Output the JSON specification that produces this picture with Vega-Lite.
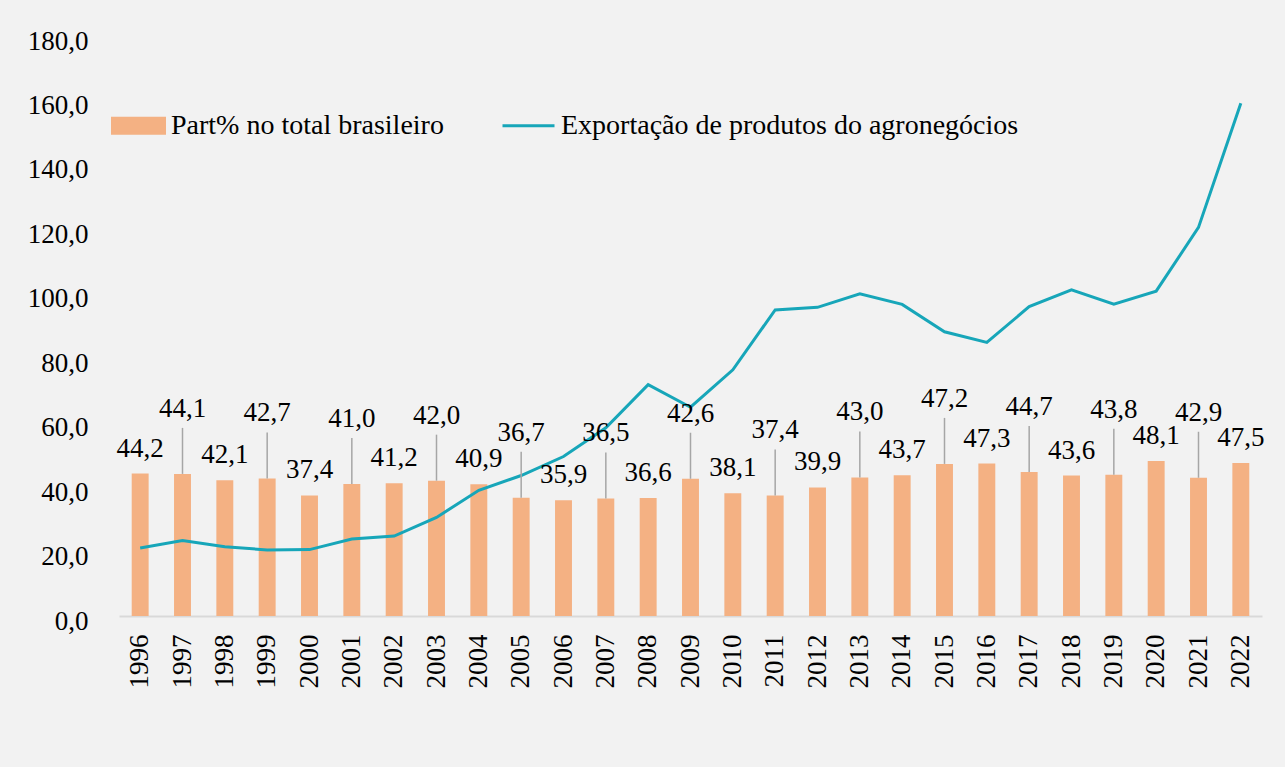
{
  "$schema": "https://vega.github.io/schema/vega-lite/v6.json",
  "width": 1143,
  "height": 580,
  "autosize": "none",
  "padding": {"left": 119, "top": 36, "right": 23, "bottom": 151},
  "background": "#f2f2f2",
  "config": {
    "locale": {"number": {"decimal": ",", "thousands": ".", "grouping": [3], "currency": ["R$", ""]}},
    "view": {"stroke": null},
    "font": "Liberation Serif"
  },
  "data": {
    "values": [
      {"year": "1996", "part": 44.2, "export": 21.1},
      {"year": "1997", "part": 44.1, "export": 23.4},
      {"year": "1998", "part": 42.1, "export": 21.5},
      {"year": "1999", "part": 42.7, "export": 20.5},
      {"year": "2000", "part": 37.4, "export": 20.6},
      {"year": "2001", "part": 41.0, "export": 23.9},
      {"year": "2002", "part": 41.2, "export": 24.8},
      {"year": "2003", "part": 42.0, "export": 30.6},
      {"year": "2004", "part": 40.9, "export": 39.0},
      {"year": "2005", "part": 36.7, "export": 43.6},
      {"year": "2006", "part": 35.9, "export": 49.5},
      {"year": "2007", "part": 36.5, "export": 58.4},
      {"year": "2008", "part": 36.6, "export": 71.8},
      {"year": "2009", "part": 42.6, "export": 64.8},
      {"year": "2010", "part": 38.1, "export": 76.4},
      {"year": "2011", "part": 37.4, "export": 95.0},
      {"year": "2012", "part": 39.9, "export": 95.8},
      {"year": "2013", "part": 43.0, "export": 100.0},
      {"year": "2014", "part": 43.7, "export": 96.7},
      {"year": "2015", "part": 47.2, "export": 88.2},
      {"year": "2016", "part": 47.3, "export": 84.9},
      {"year": "2017", "part": 44.7, "export": 96.0},
      {"year": "2018", "part": 43.6, "export": 101.2},
      {"year": "2019", "part": 43.8, "export": 96.8},
      {"year": "2020", "part": 48.1, "export": 100.8},
      {"year": "2021", "part": 42.9, "export": 120.6},
      {"year": "2022", "part": 47.5, "export": 159.1}
    ]
  },
  "encoding": {
    "x": {
      "field": "year",
      "type": "ordinal",
      "scale": {"paddingInner": 0.6, "paddingOuter": 0.3},
      "axis": {
        "title": null,
        "labelAngle": -90,
        "labelFont": "Liberation Serif",
        "labelFontSize": 27,
        "labelColor": "#000000",
        "labelPadding": 18,
        "ticks": false,
        "tickSize": 0,
        "domainColor": "#d9d9d9",
        "domainWidth": 2
      }
    }
  },
  "layer": [
    {
      "mark": {"type": "bar", "color": "#f4b183"},
      "encoding": {
        "y": {
          "field": "part",
          "type": "quantitative",
          "scale": {"domain": [0, 180], "nice": false, "zero": true},
          "axis": {
            "title": null,
            "values": [0, 20, 40, 60, 80, 100, 120, 140, 160, 180],
            "format": ".1f",
            "grid": false,
            "domain": false,
            "ticks": false,
            "tickSize": 0,
            "labelPadding": 31,
            "labelOffset": 5,
            "labelFont": "Liberation Serif",
            "labelFontSize": 27,
            "labelColor": "#000000"
          }
        },
        "color": {
          "datum": "Part% no total brasileiro",
          "type": "nominal",
          "scale": {
            "domain": ["Part% no total brasileiro", "Exportação de produtos do agronegócios"],
            "range": ["#f4b183", "#17a6b9"]
          },
          "legend": {
            "title": null,
            "orient": "none",
            "legendX": -8,
            "legendY": 62,
            "direction": "horizontal",
            "symbolSize": 2704,
            "labelFont": "Liberation Serif",
            "labelFontSize": 28,
            "labelColor": "#000000",
            "labelOffset": 5,
            "labelLimit": 600,
            "columnPadding": 52,
            "encode": {
              "symbols": {
                "update": {
                  "shape": {"signal": "datum.value === 'Part% no total brasileiro' ? 'M-1,-0.29H1V0.29H-1Z' : 'M-1,0H1'"},
                  "fill": {"signal": "datum.value === 'Part% no total brasileiro' ? '#f4b183' : 'transparent'"},
                  "stroke": {"signal": "datum.value === 'Part% no total brasileiro' ? 'transparent' : '#17a6b9'"},
                  "strokeWidth": {"value": 3},
                  "opacity": {"value": 1},
                  "fillOpacity": {"value": 1},
                  "strokeOpacity": {"value": 1}
                }
              }
            }
          }
        }
      }
    },
    {
      "mark": {"type": "line", "strokeWidth": 3, "color": "#17a6b9"},
      "encoding": {
        "y": {"field": "export", "type": "quantitative"},
        "color": {"datum": "Exportação de produtos do agronegócios", "type": "nominal"}
      }
    },
    {
      "transform": [{"filter": "toNumber(datum.year) % 2 == 1"}],
      "mark": {"type": "rule", "color": "#a6a6a6", "strokeWidth": 1.5, "y2Offset": -46},
      "encoding": {
        "y": {"field": "part", "type": "quantitative"},
        "y2": {"field": "part"}
      }
    },
    {
      "transform": [{"filter": "toNumber(datum.year) % 2 == 0"}],
      "mark": {"type": "text", "dy": -25, "baseline": "middle", "font": "Liberation Serif", "fontSize": 27, "color": "#000000"},
      "encoding": {
        "y": {"field": "part", "type": "quantitative"},
        "text": {"field": "part", "type": "quantitative", "format": ".1f"}
      }
    },
    {
      "transform": [{"filter": "toNumber(datum.year) % 2 == 1"}],
      "mark": {"type": "text", "dy": -65, "baseline": "middle", "font": "Liberation Serif", "fontSize": 27, "color": "#000000"},
      "encoding": {
        "y": {"field": "part", "type": "quantitative"},
        "text": {"field": "part", "type": "quantitative", "format": ".1f"}
      }
    }
  ]
}
